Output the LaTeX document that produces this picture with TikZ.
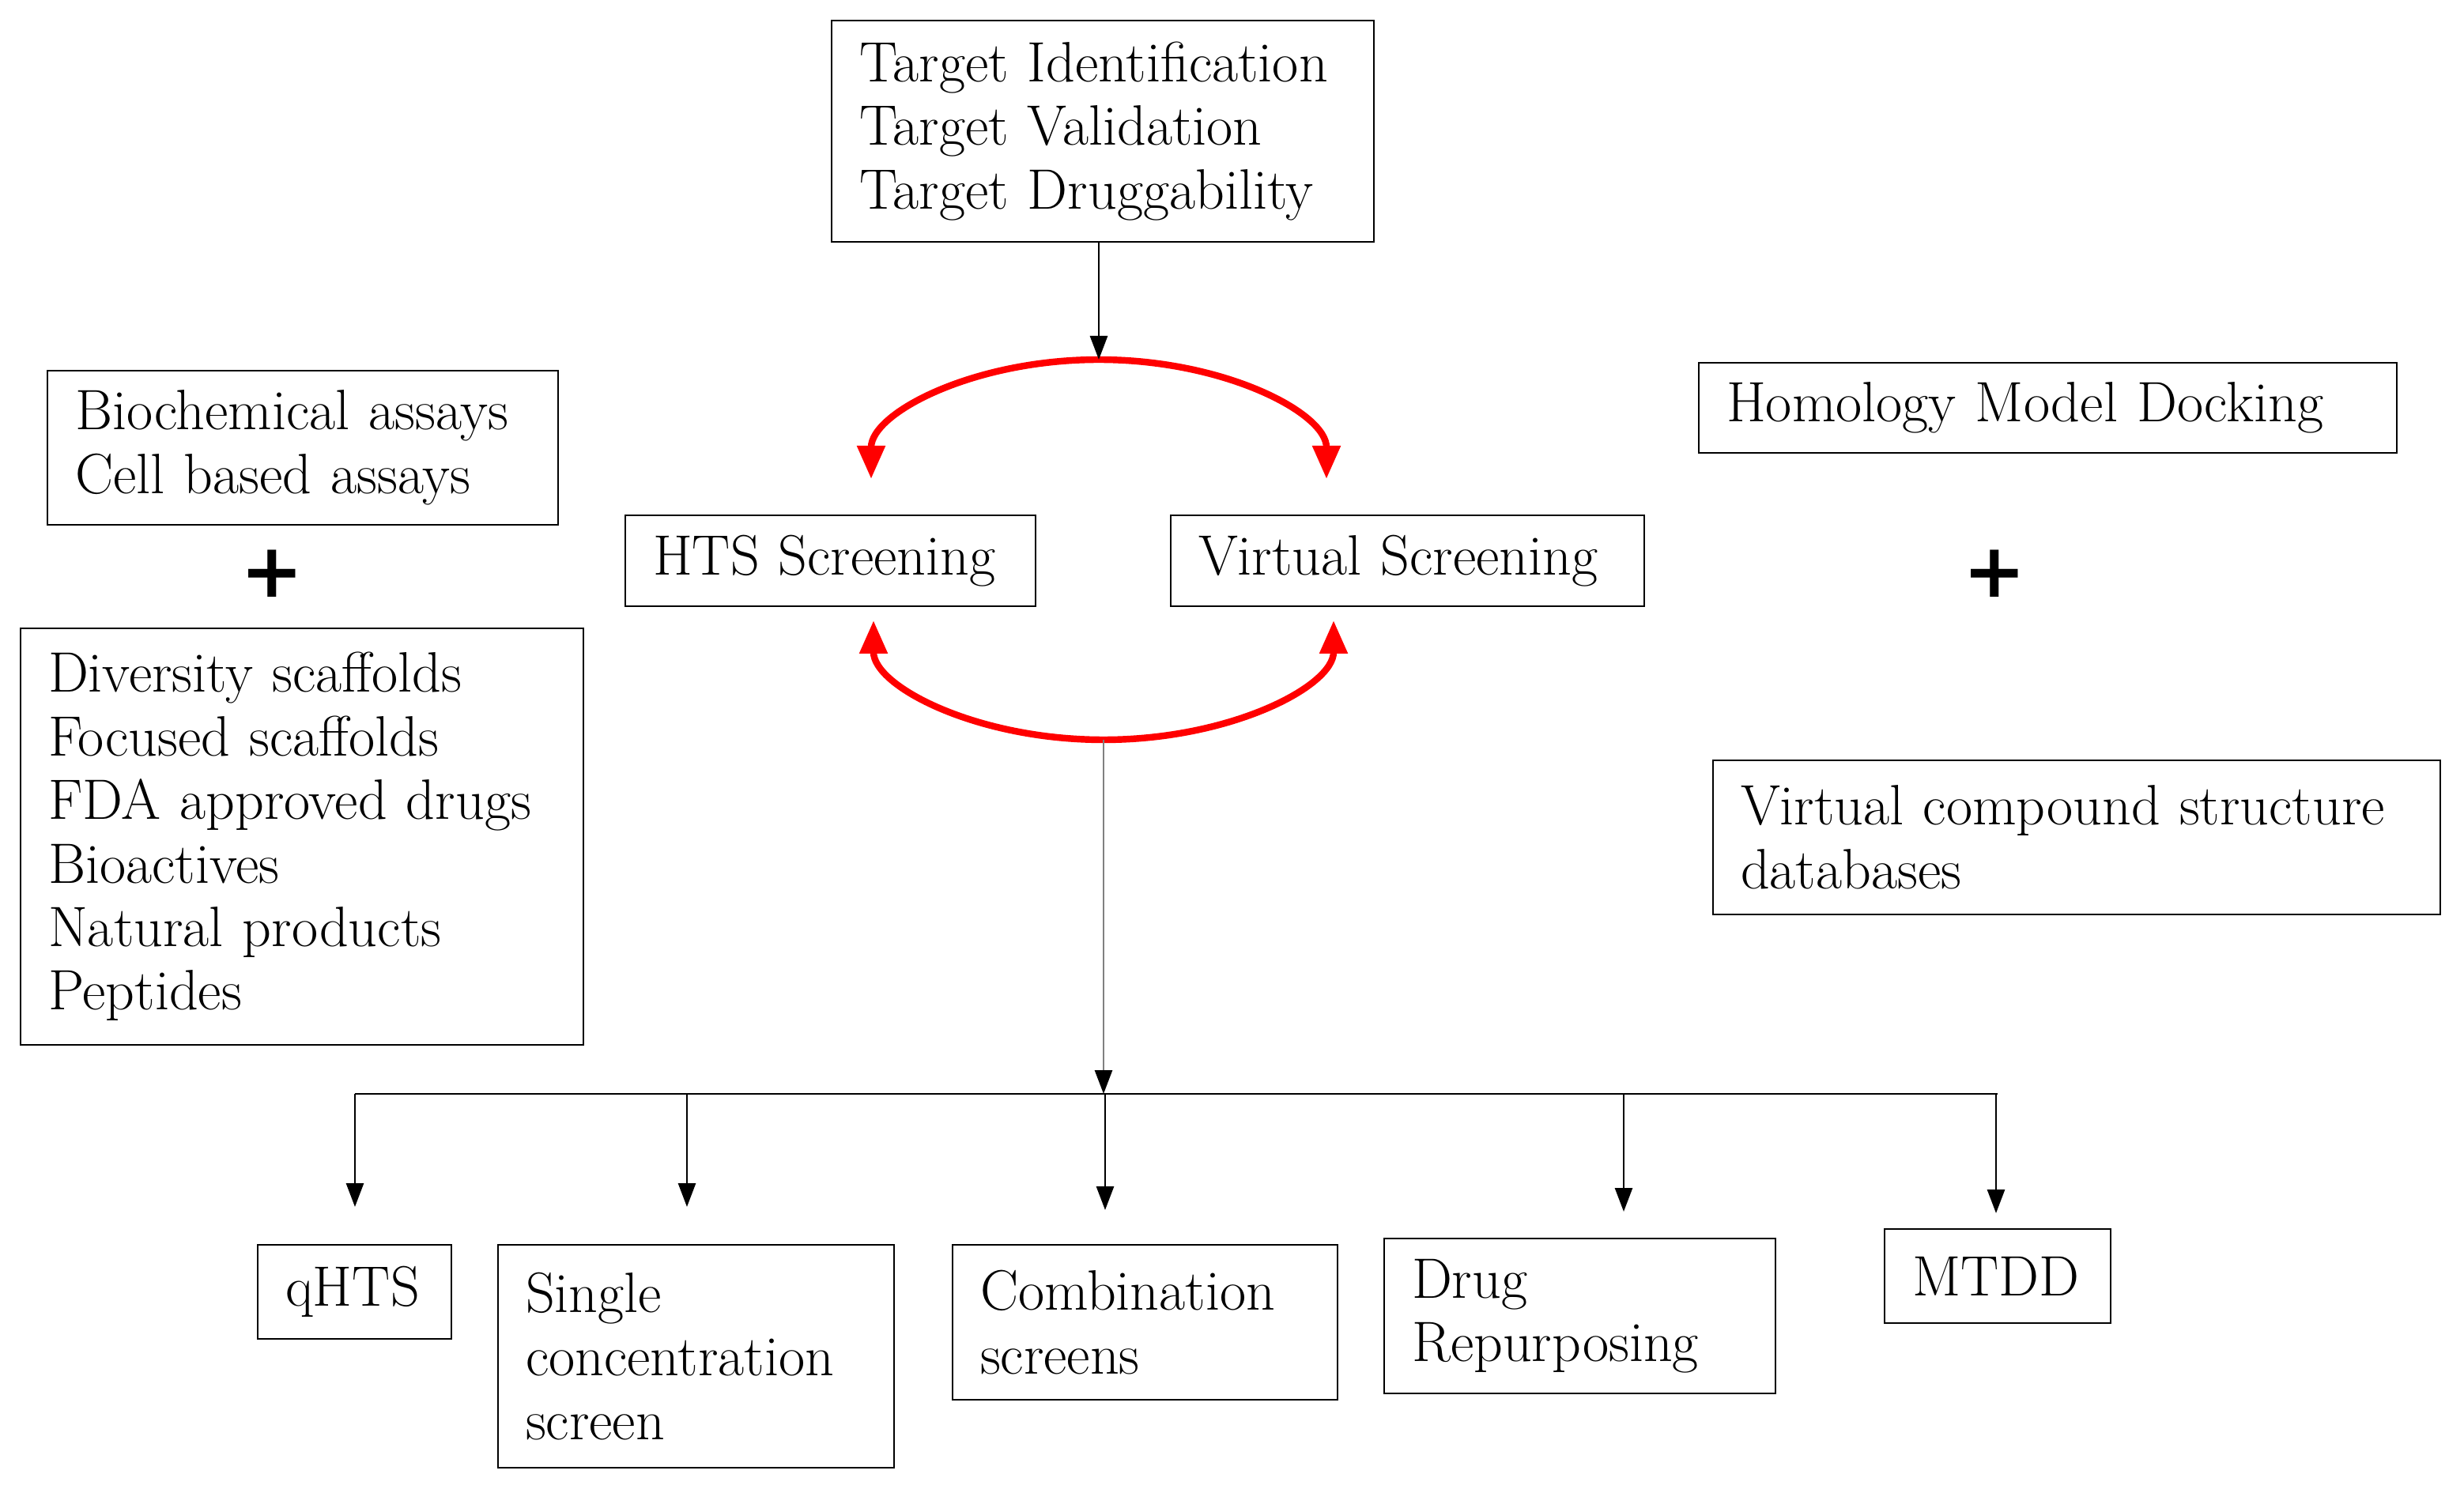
\documentclass[tikz,border=0pt]{standalone}
\usepackage{fontspec}
\newfontfamily\plusfont{DejaVu Sans}
\usetikzlibrary{arrows.meta}

\begin{document}
\begin{tikzpicture}[
    box/.style={draw, line width=0.8pt, inner xsep=0.35cm, inner ysep=0pt, align=left,
        font=\fontsize{20.5}{22.9}\selectfont},
    plus/.style={font=\plusfont\fontsize{27}{27}\selectfont\bfseries},
    blackarrow/.style={line width=0.8pt, -{Triangle[length=0.3cm, width=0.22cm, black]}},
    redarc/.style={red, line width=2.4pt,
        {Triangle[length=0.42cm, width=0.34cm]}-{Triangle[length=0.42cm, width=0.34cm]}}
]
\useasboundingbox (0,0) rectangle (31.17,-18.89);

% Target box
\node[box, text width=6.16cm, minimum height=2.80cm] (target) at (13.95,-1.66)
    {Target Identification\\Target Validation\\Target Druggability};

% Screening boxes
\node[box, text width=4.49cm, minimum height=1.15cm] (hts) at (10.505,-7.095) {HTS Screening};
\node[box, text width=5.29cm, minimum height=1.15cm] (vs) at (17.805,-7.095) {Virtual Screening};

% Left column
\node[box, text width=5.76cm, minimum height=1.95cm] (assays) at (3.83,-5.665)
    {Biochemical assays\\Cell based assays};
\node[plus] (plusL) at (3.44,-7.26) {+};
\node[box, text width=6.42cm, minimum height=5.27cm] (libs) at (3.82,-10.585)
    {Diversity scaffolds\\Focused scaffolds\\FDA approved drugs\\Bioactives\\Natural products\\Peptides};

% Right column
\node[box, text width=8.13cm, minimum height=1.14cm] (homology) at (25.905,-5.16)
    {Homology Model Docking};
\node[plus] (plusR) at (25.23,-7.26) {+};
\node[box, text width=8.50cm, minimum height=1.95cm] (vcdb) at (26.27,-10.595)
    {Virtual compound structure\\databases};

% Outcome boxes
\node[box, text width=1.75cm, minimum height=1.19cm] (qhts) at (4.485,-16.345) {qHTS};
\node[box, text width=4.31cm, minimum height=2.82cm] (single) at (8.805,-17.16)
    {Single\\concentration\\screen};
\node[box, text width=4.17cm, minimum height=1.96cm] (comb) at (14.485,-16.73)
    {Combination\\screens};
\node[box, text width=4.25cm, minimum height=1.96cm] (drug) at (19.985,-16.65)
    {Drug\\Repurposing};
\node[box, text width=2.16cm, minimum height=1.19cm] (mtdd) at (25.27,-16.145) {MTDD};

% Red loop between the two screenings
\coordinate (upL) at (11.02,-6.06);
\coordinate (upTop) at (13.90,-4.55);
\coordinate (loL) at (11.05,-7.85);
\coordinate (loBot) at (13.96,-9.36);
\draw[redarc] (upL) arc[start angle=180, end angle=0, x radius=2.88cm, y radius=1.51cm];
\draw[redarc] (loL) arc[start angle=180, end angle=360, x radius=2.91cm, y radius=1.51cm];

\draw[blackarrow] (target.south -| upTop) -- (upTop);

% Bus to the outcomes
\coordinate (busL) at (4.49,-13.84);
\coordinate (busR) at (25.27,-13.84);
\draw[blackarrow, draw=black!50] (loBot) -- (loBot |- busL);
\draw[line width=0.8pt] (busL) -- (busR);

\foreach \nm/\x/\y in {qhts/4.49/-15.27, single/8.69/-15.27, comb/13.98/-15.31,
        drug/20.54/-15.33, mtdd/25.25/-15.35} {
    \coordinate (\nm-in) at (\x,\y);
    \draw[blackarrow] (\nm-in |- busL) -- (\nm-in);
}
\end{tikzpicture}
\end{document}
